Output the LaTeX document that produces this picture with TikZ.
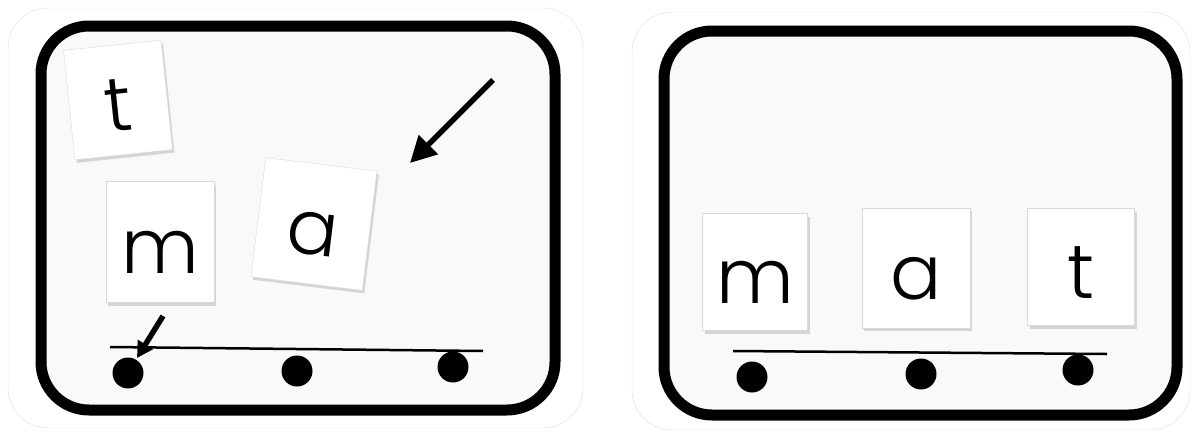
\documentclass[tikz,border=0pt]{standalone}
\usepackage{fontspec}
\newfontfamily\cardfont{Poppins Light}
\usetikzlibrary{shadows, positioning, arrows.meta}

\definecolor{boardfill}{HTML}{F8F9FB}
\definecolor{cardedge}{HTML}{DDDDDD}

\tikzset{
    letter/.style={draw=gray!30, fill=white, inner sep=0pt,
        text height=62pt, text depth=0pt,
        font=\cardfont\fontsize{76}{76}\selectfont,
        drop shadow={opacity=0.3, shadow xshift=2pt, shadow yshift=-3pt}},
    board/.style={line width=11pt, fill=boardfill, rounded corners=48pt},
    outercard/.style={draw=cardedge, fill=white, rounded corners=40pt},
    dot/.style={circle, fill=black, minimum size=31pt, inner sep=0pt}
}

\begin{document}
\begin{tikzpicture}[x=1pt, y=-1pt]
    \useasboundingbox (0,0) rectangle (1195,434);

    % Left panel
    \draw[outercard] (8,8) rectangle (583,428);
    \draw[board] (41,26) rectangle (555,410);

    % Scattered letters
    \node[letter, rotate=6, minimum width=98pt, minimum height=110pt] (tl) at (118,100) {t};
    \node[letter, minimum width=108pt, minimum height=121pt] (ml) at (160,242) {m};
    \node[letter, rotate=-7, minimum width=112pt, minimum height=120pt] (al) at (314,224) {a};

    % Arrows
    \coordinate (bigtail) at (493,80);
    \coordinate (bighead) at (410,163);
    \draw[line width=5.5pt, -{Triangle[length=26pt, width=26pt]}] (bigtail) -- (bighead);
    \coordinate (smalltail) at (163,316);
    \coordinate (smallhead) at (137,358);
    \draw[line width=5.5pt, -{Triangle[length=16pt, width=17pt]}] (smalltail) -- (smallhead);

    % Line and dots
    \coordinate (lstart) at (110,347);
    \coordinate (lend) at (483,351);
    \draw[line width=2.5pt] (lstart) -- (lend);
    \foreach \n/\x/\y in {1/128/373, 2/297/371, 3/453/367}
        \node[dot] (dl\n) at (\x,\y) {};

    % Right panel
    \draw[outercard] (632,12) rectangle (1190,430);
    \draw[board] (664,31) rectangle (1177,415);

    % Letters in place
    \node[letter, minimum width=105pt, minimum height=117pt] (mr) at (755,272) {m};
    \node[letter, minimum width=108pt, minimum height=120pt] (ar) at (916,268) {a};
    \node[letter, minimum width=107pt, minimum height=117pt] (tr) at (1081,267) {t};

    % Line and dots
    \coordinate (rstart) at (733,351);
    \coordinate (rend) at (1107,354);
    \draw[line width=2.5pt] (rstart) -- (rend);
    \foreach \n/\x/\y in {1/752/377, 2/921/374, 3/1078/370}
        \node[dot] (dr\n) at (\x,\y) {};
\end{tikzpicture}
\end{document}
